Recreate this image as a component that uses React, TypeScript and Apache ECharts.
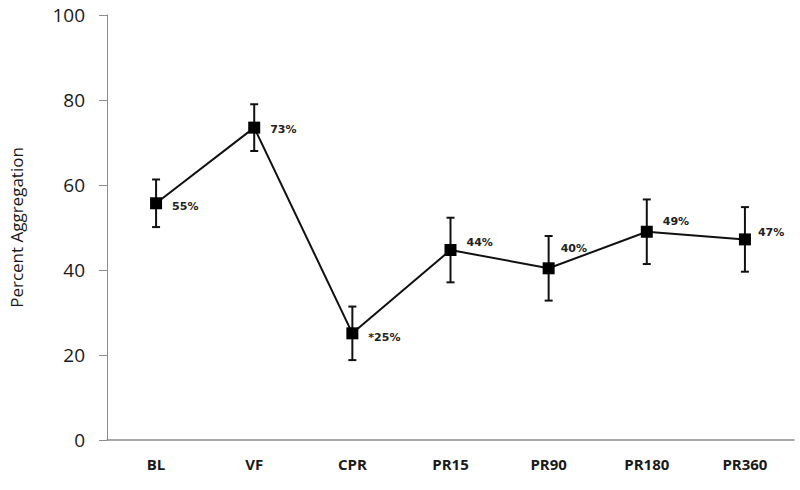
import React, { useEffect, useRef } from "react";
import * as echarts from "echarts";

const categories = ["BL", "VF", "CPR", "PR15", "PR90", "PR180", "PR360"];
const means = [55.7, 73.5, 25.1, 44.7, 40.4, 49.0, 47.2];
const errors = [5.6, 5.5, 6.3, 7.6, 7.6, 7.6, 7.6];
const pointLabels = ["55%", "73%", "*25%", "44%", "40%", "49%", "47%"];
const yTicks = [0, 20, 40, 60, 80, 100];

// label placement tweaks (style, not data)
const labelShift: [number, number][] = [
  [0, 3], [0, 2], [0, 4], [0, -8], [-4, -20], [0, -10], [-3, -7],
];

export default function App() {
  const ref = useRef<HTMLDivElement>(null);
  useEffect(() => {
    if (!ref.current) return;
    const chart = echarts.init(ref.current, null, { renderer: "svg" });
    const errData = means.map((m, i) => [i, m - errors[i], m + errors[i]]);
    chart.setOption({
      animation: false,
      backgroundColor: "#ffffff",
      grid: { left: 100, right: 6, top: 15, bottom: 50, containLabel: false },
      xAxis: {
        type: "category",
        data: categories,
        boundaryGap: true,
        axisLine: { lineStyle: { color: "#8c8c8c", width: 1.5 } },
        axisTick: { show: false },
        axisLabel: {
          color: "#1a1a1a",
          fontFamily: "Open Sans",
          fontWeight: "bold",
          fontSize: 15,
          margin: 16,
        },
      },
      yAxis: {
        type: "value",
        min: 0,
        max: 100,
        interval: 20,
        name: "Percent Aggregation",
        nameLocation: "middle",
        nameGap: 82,
        nameRotate: 90,
        nameTextStyle: { color: "#1a1a1a", fontFamily: "Open Sans", fontSize: 17 },
        axisLine: { show: true, lineStyle: { color: "#8c8c8c", width: 1 } },
        axisTick: { show: true, length: 8, lineStyle: { color: "#8c8c8c" } },
        splitLine: { show: false },
        axisLabel: {
          color: "#1a1a1a",
          fontFamily: "Open Sans",
          fontSize: 19,
          margin: 22,
          formatter: (v: number) => (yTicks.includes(v) ? String(v) : ""),
        },
      },
      series: [
        {
          type: "custom",
          z: 3,
          data: errData,
          renderItem: (params: any, api: any) => {
            const x = api.value(0);
            const lo = api.coord([x, api.value(1)]);
            const hi = api.coord([x, api.value(2)]);
            const cw = 4;
            const st = { stroke: "#111", lineWidth: 2 };
            return {
              type: "group",
              children: [
                { type: "line", shape: { x1: lo[0], y1: lo[1], x2: hi[0], y2: hi[1] }, style: st },
                { type: "line", shape: { x1: lo[0] - cw, y1: lo[1], x2: lo[0] + cw, y2: lo[1] }, style: st },
                { type: "line", shape: { x1: hi[0] - cw, y1: hi[1], x2: hi[0] + cw, y2: hi[1] }, style: st },
              ],
            };
          },
        },
        {
          type: "line",
          z: 4,
          data: means.map((m, i) => ({
            value: m,
            label: {
              show: true,
              position: "right",
              distance: 10,
              offset: labelShift[i],
              formatter: pointLabels[i],
              color: "#222",
              fontFamily: "DejaVu Sans",
              fontSize: 11,
              fontWeight: "bold",
            },
          })),
          symbol: "rect",
          symbolSize: 12,
          itemStyle: { color: "#000" },
          lineStyle: { color: "#111", width: 2 },
        },
      ],
    });
    return () => chart.dispose();
  }, []);
  return (
    <div
      ref={ref}
      style={{ position: "absolute", left: 0, top: 0, width: 800, height: 490 }}
    />
  );
}
